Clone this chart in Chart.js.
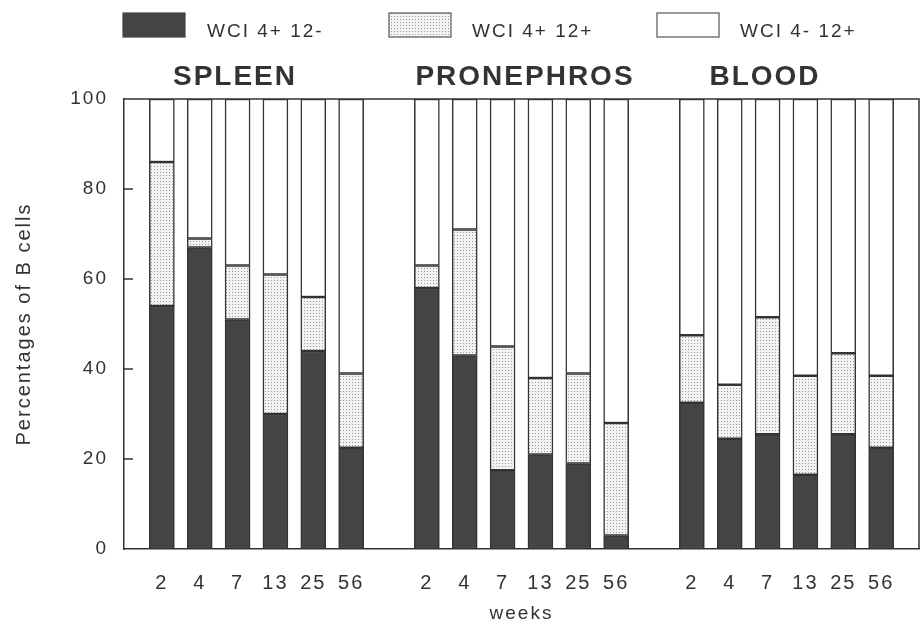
<!DOCTYPE html>
<html>
<head>
<meta charset="utf-8">
<script src="https://cdn.jsdelivr.net/npm/chart.js@4/dist/chart.umd.min.js"></script>
<style>
  html, body { margin: 0; padding: 0; background: #fff; }
  canvas { display: block; }
</style>
</head>
<body>
<canvas id="bcells" width="920" height="625"></canvas>
<script>
// weeks after immunisation, same for each organ
const weeks = ['2', '4', '7', '13', '25', '56'];
const organs = ['SPLEEN', 'PRONEPHROS', 'BLOOD'];
const seriesNames = ['WCI 4+ 12-', 'WCI 4+ 12+', 'WCI 4- 12+'];

// percentages
const spleenDark   = [54, 67, 51, 30, 44, 22.5];
const spleenDotted = [32, 2, 12, 31, 12, 16.5];
const spleenWhite  = [14, 31, 37, 39, 44, 61];

const pronDark   = [58, 43, 17.5, 21, 19, 3];
const pronDotted = [5, 28, 27.5, 17, 20, 25];
const pronWhite  = [37, 29, 55, 62, 61, 72];

const bloodDark   = [32.5, 24.5, 25.5, 16.5, 25.5, 22.5];
const bloodDotted = [15, 12, 26, 22, 18, 16];
const bloodWhite  = [52.5, 63.5, 48.5, 61.5, 56.5, 61.5];

const yTicks = [0, 20, 40, 60, 80, 100];

// empty slots between the organ groups
const labels = ['', ...weeks, '', ...weeks, '', ...weeks, ''];
const row = (a, b, c) => [null, ...a, null, ...b, null, ...c, null];

const ink = '#333333';
const font = '"Liberation Sans", Arial, Helvetica, sans-serif';

const canvas = document.getElementById('bcells');
const ctx = canvas.getContext('2d');

// stippled fill for the double positive cells
const pc = document.createElement('canvas');
pc.width = 3; pc.height = 3;
const pg = pc.getContext('2d');
pg.fillStyle = '#f3f3f3';
pg.fillRect(0, 0, 3, 3);
pg.fillStyle = '#9a9a9a';
pg.fillRect(1, 1, 1, 1);
const dots = ctx.createPattern(pc, 'repeat');

const fills = ['#444444', dots, '#ffffff'];

const spacing = {
  id: 'spacing',
  beforeLayout(chart) { chart.ctx.letterSpacing = '2px'; },
  beforeDraw(chart) { chart.ctx.letterSpacing = '2px'; }
};

const decor = {
  id: 'decor',
  afterDraw(chart) {
    const c = chart.ctx;
    const a = chart.chartArea;
    const y = chart.scales.y;
    c.save();
    c.strokeStyle = ink;
    c.lineWidth = 1.5;
    // frame top and right
    c.beginPath();
    c.moveTo(a.left, a.top);
    c.lineTo(a.right, a.top);
    c.lineTo(a.right, a.bottom);
    c.stroke();
    // inward tick marks
    c.beginPath();
    y.ticks.forEach(t => {
      if (t.value === 0 || t.value === 100) return;
      const py = y.getPixelForValue(t.value);
      c.moveTo(a.left, py);
      c.lineTo(a.left + 9, py);
    });
    c.stroke();

    // legend
    const boxes = [[123, 13], [389, 13], [657, 13]];
    const texts = [207, 472, 740];
    c.font = '19px ' + font;
    c.textBaseline = 'alphabetic';
    c.textAlign = 'left';
    seriesNames.forEach((name, i) => {
      c.fillStyle = fills[i];
      c.fillRect(boxes[i][0], boxes[i][1], 62, 24);
      c.strokeStyle = i === 0 ? '#444' : '#555';
      c.lineWidth = 1.2;
      c.strokeRect(boxes[i][0], boxes[i][1], 62, 24);
      c.fillStyle = ink;
      c.fillText(name, texts[i], 37);
    });

    // organ titles
    const tx = [235, 525, 765];
    c.font = 'bold 28px ' + font;
    c.textAlign = 'center';
    organs.forEach((o, i) => c.fillText(o, tx[i], 85));
    c.restore();
  }
};

new Chart(ctx, {
  type: 'bar',
  data: {
    labels: labels,
    datasets: [
      {
        label: seriesNames[0],
        data: row(spleenDark, pronDark, bloodDark),
        backgroundColor: fills[0]
      },
      {
        label: seriesNames[1],
        data: row(spleenDotted, pronDotted, bloodDotted),
        backgroundColor: fills[1]
      },
      {
        label: seriesNames[2],
        data: row(spleenWhite, pronWhite, bloodWhite),
        backgroundColor: fills[2]
      }
    ]
  },
  options: {
    responsive: false,
    animation: false,
    events: [],
    layout: { padding: { top: 99, right: 1, bottom: 0, left: 12 } },
    datasets: {
      bar: {
        barThickness: 25,
        borderWidth: 1.5,
        borderColor: ink,
        borderSkipped: false
      }
    },
    plugins: {
      legend: { display: false },
      tooltip: { enabled: false }
    },
    scales: {
      x: {
        stacked: true,
        offset: false,
        afterFit(scale) {
          scale.height = 76;
          scale.paddingLeft = 0;
          scale.paddingRight = 0;
        },
        grid: { display: false, drawTicks: false },
        border: { display: true, color: ink, width: 1.5 },
        ticks: {
          autoSkip: false,
          maxRotation: 0,
          padding: 22,
          color: ink,
          font: { family: font, size: 20 }
        },
        title: {
          display: true,
          text: 'weeks',
          color: ink,
          padding: 0,
          font: { family: font, size: 19 }
        }
      },
      y: {
        stacked: true,
        min: 0,
        max: 100,
        afterBuildTicks(scale) {
          scale.ticks = yTicks.map(v => ({ value: v }));
        },
        afterFit(scale) {
          scale.width = 112;
        },
        grid: { display: false, drawTicks: false },
        border: { display: true, color: ink, width: 1.5 },
        ticks: {
          padding: 16,
          color: ink,
          font: { family: font, size: 19 }
        },
        title: {
          display: true,
          text: 'Percentages of B cells',
          color: ink,
          padding: 0,
          font: { family: font, size: 20 }
        }
      }
    }
  },
  plugins: [spacing, decor]
});
</script>
</body>
</html>
